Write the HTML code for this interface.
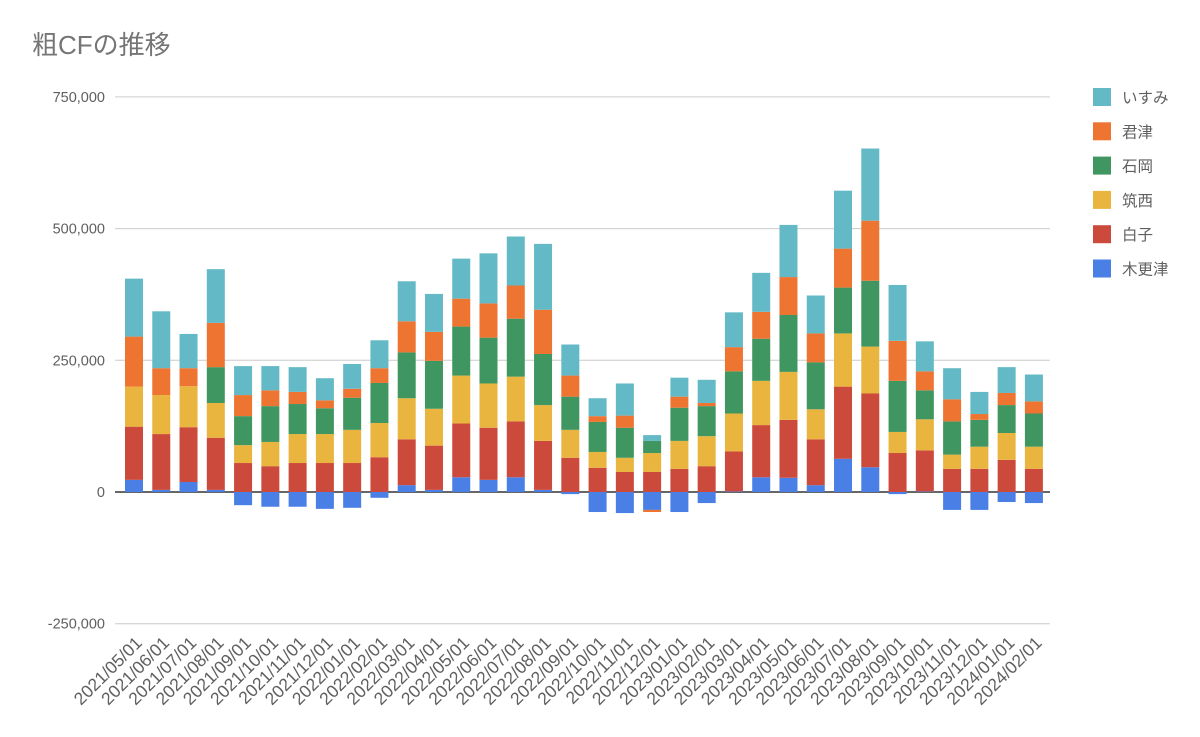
<!DOCTYPE html>
<html><head><meta charset="utf-8">
<style>
html,body{margin:0;padding:0;background:#fff;}
svg{display:block;font-family:"Liberation Sans","Noto Sans CJK JP",sans-serif;}
</style></head>
<body>
<svg id="chart" width="1200" height="737" viewBox="0 0 1200 737" xmlns="http://www.w3.org/2000/svg">
<text x="32" y="54" font-size="26" fill="#757575">粗CFの推移</text>
<g id="grid"></g><g id="bars"></g><g id="xlabels"></g><g id="legend"></g>
</svg>
<script>
const categories = ["2021/05/01","2021/06/01","2021/07/01","2021/08/01","2021/09/01","2021/10/01","2021/11/01","2021/12/01","2022/01/01","2022/02/01","2022/03/01","2022/04/01","2022/05/01","2022/06/01","2022/07/01","2022/08/01","2022/09/01","2022/10/01","2022/11/01","2022/12/01","2023/01/01","2023/02/01","2023/03/01","2023/04/01","2023/05/01","2023/06/01","2023/07/01","2023/08/01","2023/09/01","2023/10/01","2023/11/01","2023/12/01","2024/01/01","2024/02/01"];
const seriesNames = ["木更津","白子","筑西","石岡","君津","いすみ"];
const kisarazu = [23,4,19,4,-25,-28,-28,-32,-30,-11,13,4,28,23,28,4,-4,-38,-40,-34,-38,-21,1,28,27,13,63,47,-4,1,-34,-34,-19,-21];
const shirako = [101,106,104,99,55,49,55,55,55,66,87,84,102,99,106,93,65,46,38,38,44,49,76,99,110,87,137,140,74,78,44,44,61,44];
const chikusei = [76,74,78,66,34,46,55,55,63,65,78,70,91,84,85,68,53,30,27,36,53,57,72,84,91,57,101,89,40,59,27,42,51,42];
const ishioka = [0,0,0,68,55,68,57,49,61,76,87,91,93,87,110,97,63,57,57,23,63,57,80,80,108,89,87,125,97,55,63,51,53,63];
const kimitsu = [95,51,34,84,40,30,23,15,17,28,59,55,53,65,63,84,40,11,23,-4,21,6,46,51,72,55,74,114,76,36,42,11,23,23];
const isumi = [110,108,65,102,55,46,47,42,47,53,76,72,76,95,93,125,59,34,61,11,36,44,66,74,99,72,110,137,106,57,59,42,49,51];
const yTicks = [750000,500000,250000,0,-250000];
const yTickLabels = ["750,000","500,000","250,000","0","-250,000"];
const colors = ["#4a7fe6","#cc4a3c","#e9b53f","#3f9660","#ee7431","#63b9c6"];
const series = [kisarazu,shirako,chikusei,ishioka,kimitsu,isumi];
const NS="http://www.w3.org/2000/svg";
const y = v => 492 - v*1000/250000*131.7;
const x = i => 134 + i*27.27;
const bw = 18;
function mk(tag, attrs, parent){const e=document.createElementNS(NS,tag);for(const k in attrs)e.setAttribute(k,attrs[k]);parent.appendChild(e);return e;}
const grid=document.getElementById('grid');
yTicks.forEach((t,i)=>{
  const l=mk('line',{x1:115,x2:1050,y1:y(t/1000),y2:y(t/1000),stroke:t===0?'#333':'#ccc','stroke-width':t===0?1.5:1},grid);
  
  
  const tx=mk('text',{x:105,y:y(t/1000)+5,'text-anchor':'end','font-size':14.5,fill:'#5f5f5f'},grid);
  tx.textContent=yTickLabels[i];
  
  
});
const bars=document.getElementById('bars');
categories.forEach((c,i)=>{
  let pos=0,neg=0;
  series.forEach((s,j)=>{
    const v=s[i]; if(v===0) return;
    let y0,y1;
    if(v>0){y0=pos;y1=pos+v;pos=y1;} else {y0=neg;y1=neg+v;neg=y1;}
    const top=Math.min(y(y0),y(y1)),h=Math.abs(y(y1)-y(y0));
    const r=mk('rect',{x:x(i)-bw/2,y:top,width:bw,height:h,fill:colors[j]},bars);
    
    
  });
});
const xl=document.getElementById('xlabels');
categories.forEach((c,i)=>{
  const px=x(i)+9,py=644;
  const t=mk('text',{x:px,y:py,'text-anchor':'end','font-size':17.5,fill:'#5f5f5f',transform:`rotate(-45 ${px} ${py})`},xl);
  t.textContent=c;
  
  
});
const lg=document.getElementById('legend');
const legendOrder=[5,4,3,2,1,0];
legendOrder.forEach((j,k)=>{
  const yy=88+k*34.3;
  const r=mk('rect',{x:1093,y:yy,width:18,height:18,fill:colors[j]},lg);
  
  
  const t=mk('text',{x:1122,y:yy+15,'font-size':15.5,fill:'#5f5f5f'},lg);
  t.textContent=seriesNames[j];
  
  
});
</script>
</body></html>
